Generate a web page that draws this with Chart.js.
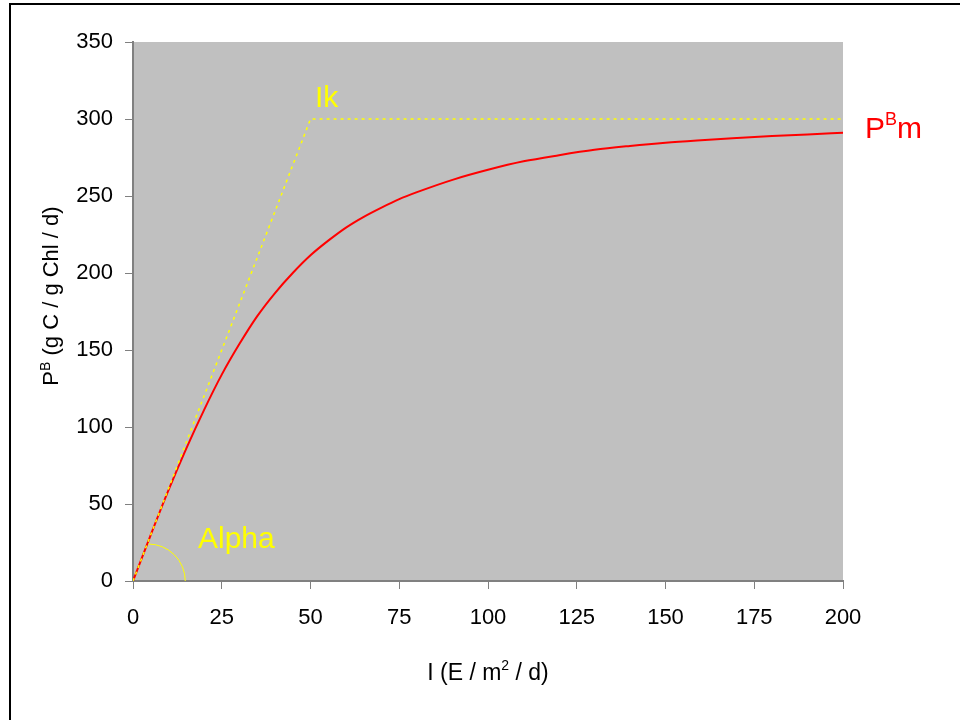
<!DOCTYPE html>
<html>
<head>
<meta charset="utf-8">
<script src="https://cdn.jsdelivr.net/npm/chart.js@4/dist/chart.umd.min.js"></script>
<style>
  html, body { margin: 0; padding: 0; background: #fff; }
  #wrap { position: relative; width: 960px; height: 720px; }
</style>
</head>
<body>
<div id="wrap"><canvas id="piChart" width="960" height="720"></canvas></div>
<script>
// light (I) values and production
const lightLevels = [0, 5, 10, 15, 20, 25, 30, 35, 40, 45, 50, 55, 60, 65, 70, 75, 80, 90, 100, 110, 120, 130, 140, 150, 160, 170, 180, 190, 200];
const production = [0, 30, 59, 86, 111, 134, 154, 172, 187, 200, 211.5, 221, 229.5, 236.5, 242.5, 248, 252.5, 260.5, 267, 272.5, 276.5, 280, 282.5, 284.6, 286.2, 287.6, 288.9, 290, 291];

// initial slope up to Ik, then flat at PBm
const limitX = [0, 50, 200];
const limitY = [0, 300, 300];

const xTicks = [0, 25, 50, 75, 100, 125, 150, 175, 200];
const yTicks = [0, 50, 100, 150, 200, 250, 300, 350];

const FONT = "'Liberation Sans', Arial, sans-serif";

const plotBg = {
  id: "plotBg",
  beforeDraw(chart) {
    const {ctx, chartArea: a} = chart;
    ctx.save();
    ctx.fillStyle = "#c0c0c0";
    ctx.fillRect(a.left, a.top, a.right - a.left, a.bottom - a.top);
    // outer frame (left and top edges visible)
    ctx.strokeStyle = "#000";
    ctx.lineWidth = 2;
    ctx.beginPath();
    ctx.moveTo(10, 720);
    ctx.lineTo(10, 4);
    ctx.lineTo(960, 4);
    ctx.stroke();
    ctx.restore();
  }
};

function drawSup(ctx, parts, x, y, align) {
  // parts: [text, size, rise]
  let total = 0;
  parts.forEach(p => { ctx.font = p[1] + "px " + FONT; total += ctx.measureText(p[0]).width; });
  let cx = align === "center" ? x - total / 2 : x;
  parts.forEach(p => {
    ctx.font = p[1] + "px " + FONT;
    ctx.fillText(p[0], cx, y - p[2]);
    cx += ctx.measureText(p[0]).width;
  });
}

const annotations = {
  id: "annotations",
  afterDraw(chart) {
    const {ctx} = chart;
    const xs = chart.scales.x, ys = chart.scales.y;
    ctx.save();
    ctx.textAlign = "left";
    ctx.textBaseline = "alphabetic";

    // alpha arc
    ctx.strokeStyle = "#ffff00";
    ctx.lineWidth = 1;
    ctx.beginPath();
    ctx.arc(xs.getPixelForValue(4.3), ys.getPixelForValue(0), 37, -Math.PI / 2, 0);
    ctx.stroke();

    ctx.fillStyle = "#ffff00";
    ctx.font = "30px " + FONT;
    ctx.fillText("Ik", 315, 107);
    ctx.fillText("Alpha", 198, 548);

    ctx.fillStyle = "#ff0000";
    drawSup(ctx, [["P", 30, 0], ["B", 18, 13], ["m", 30, 0]], 865, 138, "left");

    // axis titles
    ctx.fillStyle = "#000";
    drawSup(ctx, [["I (E / m", 23, 0], ["2", 14, 10], [" / d)", 23, 0]], 488, 680, "center");

    ctx.translate(58, 296);
    ctx.rotate(-Math.PI / 2);
    drawSup(ctx, [["P", 22, 0], ["B", 14, 8], [" (g C / g Chl / d)", 22, 0]], 0, 0, "center");
    ctx.restore();
  }
};

new Chart(document.getElementById("piChart"), {
  type: "line",
  data: {
    datasets: [
      {
        label: "Ik",
        data: limitX.map((x, i) => ({x: x, y: limitY[i]})),
        borderColor: "#ffff00",
        borderWidth: 1.5,
        borderDash: [3, 4],
        pointRadius: 0,
        tension: 0
      },
      {
        label: "P",
        data: lightLevels.map((x, i) => ({x: x, y: production[i]})),
        borderColor: "#ff0000",
        borderWidth: 2,
        pointRadius: 0,
        cubicInterpolationMode: "monotone"
      }
    ]
  },
  options: {
    responsive: false,
    animation: false,
    layout: {padding: {left: 0, top: 42, right: 117, bottom: 0}},
    plugins: {legend: {display: false}, tooltip: {enabled: false}},
    scales: {
      x: {
        type: "linear",
        min: 0, max: 200,
        afterBuildTicks: s => { s.ticks = xTicks.map(v => ({value: v})); },
        afterFit: s => { s.height = 139; },
        grid: {drawOnChartArea: false, color: "#808080", tickLength: 8},
        border: {color: "#808080", width: 2},
        ticks: {color: "#000", padding: 16, maxRotation: 0, font: {family: FONT, size: 22}}
      },
      y: {
        min: 0, max: 350,
        afterBuildTicks: s => { s.ticks = yTicks.map(v => ({value: v})); },
        afterFit: s => { s.width = 133; },
        grid: {drawOnChartArea: false, color: "#808080", tickLength: 8},
        border: {color: "#808080", width: 2},
        ticks: {color: "#000", padding: 12, font: {family: FONT, size: 22}}
      }
    }
  },
  plugins: [plotBg, annotations]
});
</script>
</body>
</html>
